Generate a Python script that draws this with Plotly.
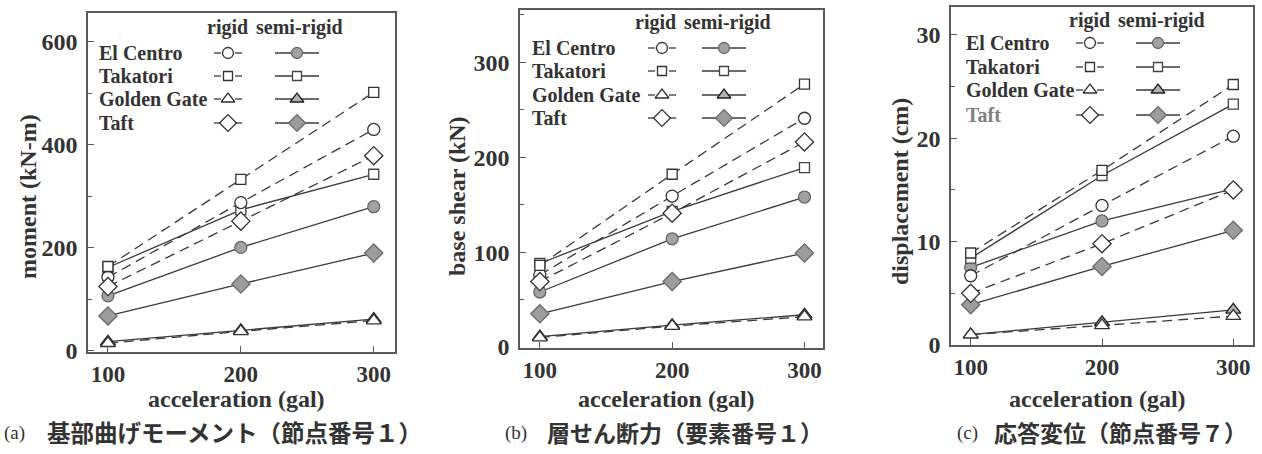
import plotly.graph_objects as go

# ---- data -------------------------------------------------------------
accel = [100, 200, 300]
records = ["El Centro", "Takatori", "Golden Gate", "Taft"]

# (a) base bending moment, node 1 (kN-m)
moment_rigid = {"El Centro": [143, 288, 430], "Takatori": [164, 333, 502],
                "Golden Gate": [15, 38, 59], "Taft": [125, 252, 379]}
moment_semi = {"El Centro": [107, 201, 280], "Takatori": [162, 274, 343],
               "Golden Gate": [18, 40, 62], "Taft": [68, 130, 190]}

# (b) story shear, element 1 (kN)
shear_rigid = {"El Centro": [76, 159, 241], "Takatori": [86, 182, 277],
               "Golden Gate": [10, 22, 32], "Taft": [69, 141, 216]}
shear_semi = {"El Centro": [58, 114, 158], "Takatori": [88, 143, 189],
              "Golden Gate": [11, 23, 34], "Taft": [35, 69, 99]}

# (c) response displacement, node 7 (cm)
disp_rigid = {"El Centro": [6.7, 13.5, 20.2], "Takatori": [8.9, 16.9, 25.2],
              "Golden Gate": [1.0, 1.9, 2.8], "Taft": [5.0, 9.8, 15.0]}
disp_semi = {"El Centro": [7.5, 12.0, 15.1], "Takatori": [8.4, 16.4, 23.3],
             "Golden Gate": [1.0, 2.2, 3.4], "Taft": [3.9, 7.6, 11.1]}

y_titles = ["moment (kN-m)", "base shear (kN)", "displacement (cm)"]
x_title = "acceleration (gal)"
captions = [("(a)", "基部曲げモーメント（節点番号１）"),
            ("(b)", "層せん断力（要素番号１）"),
            ("(c)", "応答変位（節点番号７）")]

# ---- styling ----------------------------------------------------------
W, H = 1262, 467
SERIF = "Liberation Serif"
CJK = "Noto Sans CJK JP"
INK = "#333333"
LINE = "#3a3a3a"
FRAME = "#5a5a5a"
GRAY = "#a2a2a2"
DASH = "10px,6px"

symbols = {"El Centro": "circle", "Takatori": "square",
           "Golden Gate": "triangle-up", "Taft": "diamond"}
sizes = {"El Centro": 12, "Takatori": 10, "Golden Gate": 13, "Taft": 14}
rigid_fill = {r: "white" for r in records}
semi_fill = {"El Centro": GRAY, "Takatori": "white",
             "Golden Gate": "#b0b0b0", "Taft": "#9c9c9c"}
semi_edge = {"El Centro": "#666666", "Takatori": "#444444",
             "Golden Gate": "#222222", "Taft": "#6a6a6a"}

# vertical layout positions are given on a 454-px page
VS = H / 454

# panel boxes in pixels: left, right, top, bottom
boxes = [(88, 395, 13, 352), (520, 823, 10, 348), (951, 1253, 7, 345)]
x_ranges = [[85, 316], [85, 314], [85, 315]]
y_ranges = [[-2, 656], [-1, 355], [0, 32.7]]
y_dticks = [200, 100, 10]
y_minor = [100, 50, 5]

# legend layout inside each panel (pixel offsets from panel top-left)
leg_text_x = [9, 10, 13]
leg_rigid_x = [140, 142, 139]
leg_semi_x = [209, 204, 207]
head_rigid_x = [139, 135, 138]
head_semi_x = [211, 207, 210]
leg_head_y = [14, 13, 13]
leg_rows_y = [[40, 63, 86, 110], [38, 61, 85, 108], [36, 60, 83, 108]]
y_title_x = [28, 457, 900]
y_title_y = [197, 196, 192]
x_title_y = 399
caption_y = 432
caption_tag_x = [2, 503, 955]
caption_text_x = [45, 545, 992]
caption_size = [23.5, 23, 23]

series = [(moment_rigid, moment_semi), (shear_rigid, shear_semi),
          (disp_rigid, disp_semi)]


def px_x(v):
    return v / W


def px_y(v):
    return 1 - v * VS / H


fig = go.Figure()
layout = {}
annotations = []

for i, (box, (rigid, semi)) in enumerate(zip(boxes, series)):
    l, r, t, b = box
    n = i + 1
    xa = "x" if n == 1 else f"x{n}"
    ya = "y" if n == 1 else f"y{n}"
    xk = "xaxis" if n == 1 else f"xaxis{n}"
    yk = "yaxis" if n == 1 else f"yaxis{n}"
    layout[xk] = dict(domain=[px_x(l), px_x(r)], range=x_ranges[i], anchor=ya,
                      tickvals=accel, ticks="inside", ticklen=6, tickcolor=FRAME,
                      showline=True, linecolor=FRAME, linewidth=1.6, mirror=True,
                      showgrid=False, zeroline=False,
                      tickfont=dict(family=SERIF, size=23, color=INK, weight="bold"),
                      ticklabelstandoff=1)
    layout[yk] = dict(domain=[px_y(b), px_y(t)], range=y_ranges[i], anchor=xa,
                      dtick=y_dticks[i], tick0=0, ticks="inside", ticklen=6,
                      tickcolor=FRAME, showline=True, linecolor=FRAME,
                      linewidth=1.6, mirror=True, showgrid=False, zeroline=False,
                      tickfont=dict(family=SERIF, size=24, color=INK, weight="bold"),
                      ticklabelstandoff=4,
                      minor=dict(dtick=y_minor[i], tick0=0, ticks="inside",
                                 ticklen=4, tickcolor=FRAME))

    # semi-rigid: solid lines
    for rec in records:
        fig.add_trace(go.Scatter(
            x=accel, y=semi[rec], mode="lines+markers", xaxis=xa, yaxis=ya,
            line=dict(color=LINE, width=1.3),
            marker=dict(symbol=symbols[rec], size=sizes[rec], color=semi_fill[rec],
                        line=dict(color=semi_edge[rec], width=1.3)),
            showlegend=False, cliponaxis=False))
    # rigid: dashed lines, open markers
    for rec in records:
        fig.add_trace(go.Scatter(
            x=accel, y=rigid[rec], mode="lines+markers", xaxis=xa, yaxis=ya,
            line=dict(color=LINE, width=1.3, dash=DASH),
            marker=dict(symbol=symbols[rec], size=sizes[rec], color=rigid_fill[rec],
                        line=dict(color="#333333", width=1.3)),
            showlegend=False, cliponaxis=False))

    # overlay axes in panel pixels for the legend key
    m = n + 3
    lxa, lya = f"x{m}", f"y{m}"
    layout[f"xaxis{m}"] = dict(overlaying=xa, range=[0, r - l], anchor=lya,
                               visible=False, fixedrange=True)
    layout[f"yaxis{m}"] = dict(overlaying=ya, range=[b - t, 0], anchor=lxa,
                               visible=False, fixedrange=True)

    hfont = dict(family=SERIF, size=20, color=INK, weight="bold")
    annotations.append(dict(xref=lxa, yref=lya, x=head_rigid_x[i], y=leg_head_y[i],
                            text="rigid", showarrow=False, font=hfont,
                            xanchor="center", yanchor="middle"))
    annotations.append(dict(xref=lxa, yref=lya, x=head_semi_x[i], y=leg_head_y[i],
                            text="semi-rigid", showarrow=False, font=hfont,
                            xanchor="center", yanchor="middle"))
    for rec, ry in zip(records, leg_rows_y[i]):
        col = "#808080" if (i == 2 and rec == "Taft") else INK
        annotations.append(dict(xref=lxa, yref=lya, x=leg_text_x[i], y=ry, text=rec,
                                showarrow=False, xanchor="left", yanchor="middle",
                                font=dict(family=SERIF, size=20, color=col,
                                          weight="bold")))
        cx = leg_rigid_x[i]
        fig.add_trace(go.Scatter(
            x=[cx - 14, cx - 7, None, cx + 7, cx + 14], y=[ry, ry, None, ry, ry],
            mode="lines", xaxis=lxa, yaxis=lya,
            line=dict(color=LINE, width=1.3), showlegend=False, hoverinfo="skip"))
        fig.add_trace(go.Scatter(
            x=[cx], y=[ry], mode="markers", xaxis=lxa, yaxis=lya,
            marker=dict(symbol=symbols[rec], size=sizes[rec] - 1, color=rigid_fill[rec],
                        line=dict(color="#333333", width=1.3)),
            showlegend=False, hoverinfo="skip"))
        sx = leg_semi_x[i]
        fig.add_trace(go.Scatter(
            x=[sx - 22, sx + 22], y=[ry, ry], mode="lines", xaxis=lxa, yaxis=lya,
            line=dict(color=LINE, width=1.3), showlegend=False, hoverinfo="skip"))
        fig.add_trace(go.Scatter(
            x=[sx], y=[ry], mode="markers", xaxis=lxa, yaxis=lya,
            marker=dict(symbol=symbols[rec], size=sizes[rec] - 1, color=semi_fill[rec],
                        line=dict(color=semi_edge[rec], width=1.3)),
            showlegend=False, hoverinfo="skip"))

    # axis titles
    tfont = dict(family=SERIF, size=24, color=INK, weight="bold")
    annotations.append(dict(xref="paper", yref="paper", x=px_x(y_title_x[i]),
                            y=px_y(y_title_y[i]), text=y_titles[i], textangle=-90,
                            showarrow=False, font=tfont,
                            xanchor="center", yanchor="middle"))
    annotations.append(dict(xref="paper", yref="paper", x=px_x((l + r) / 2 - 5),
                            y=px_y(x_title_y), text=x_title, showarrow=False,
                            font=tfont, xanchor="center", yanchor="middle"))
    # captions
    tag, body = captions[i]
    annotations.append(dict(xref="paper", yref="paper", x=px_x(caption_tag_x[i]),
                            y=px_y(caption_y + 1), text=tag, showarrow=False,
                            xanchor="left", yanchor="middle",
                            font=dict(family=SERIF, size=19, color=INK)))
    annotations.append(dict(xref="paper", yref="paper", x=px_x(caption_text_x[i]),
                            y=px_y(caption_y), text=body, showarrow=False,
                            xanchor="left", yanchor="middle",
                            font=dict(family=CJK, size=caption_size[i], color=INK,
                                      weight="bold")))

fig.update_layout(width=W, height=H, margin=dict(l=0, r=0, t=0, b=0),
                  paper_bgcolor="white", plot_bgcolor="white",
                  annotations=annotations, **layout)

fig.write_html("out.html")
